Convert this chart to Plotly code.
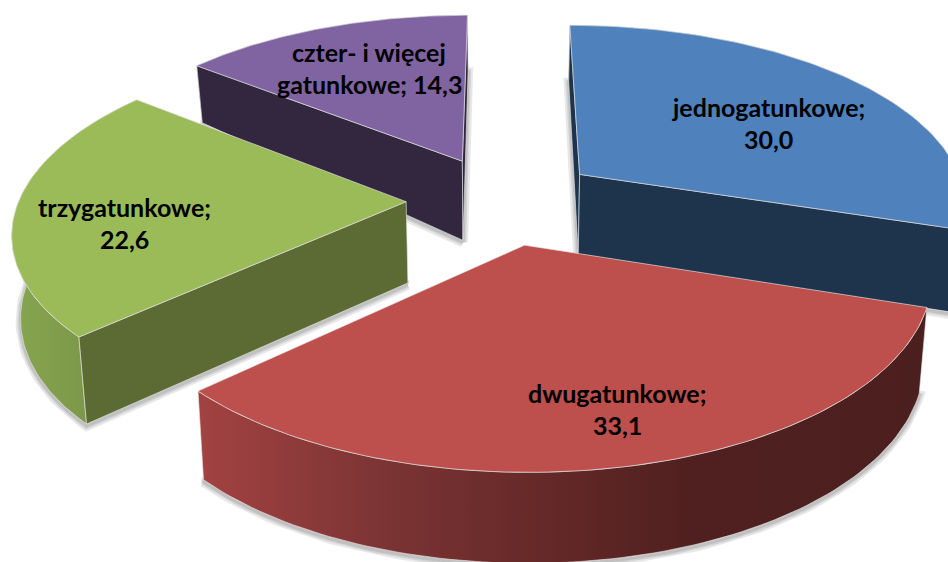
import numpy as np
import plotly.graph_objects as go

categories = ["jednogatunkowe", "dwugatunkowe", "trzygatunkowe", "czter- i więcej gatunkowe"]
values = [30.0, 33.1, 22.6, 14.3]

top_colors = ["#4f81bd", "#bd4f4c", "#9bbb59", "#8064a2"]
side_colors = [
    [[0, "#1e334c"], [1, "#1e334c"]],
    [[0, "#a34242"], [0.25, "#7c3434"], [0.45, "#672a29"], [0.68, "#4f201f"], [1, "#4c1f1f"]],
    [[0, "#87a650"], [1, "#738d43"]],
    [[0, "#33273f"], [1, "#33273f"]],
]
face_colors = ["#1e334c", "#4c1f1f", "#5c6b33", "#33273f"]
label_pos = [(768, 107), (617, 393), (124, 207), (369, 52)]
draw_order = [3, 0, 2, 1]

# projection of the tilted, exploded pie
X0, Y0, R, Q, K = 503.0, 209.0, 390.0, 181.0, 0.15
EXPLODE, CENTER_Y = 0.25, -0.05
INSET = 0.018
CAMERA = (0.0, 3.0)


def depth(y):
    return np.interp(y, [-1.3, -0.9, -0.3, 0.5, 1.2], [55, 57, 79, 86, 91])


def project(wx, wy):
    s = 1.0 / (1.0 - K * wy)
    return X0 + R * wx * s, Y0 + Q * wy * s


def project_bottom(wx, wy):
    sx, sy = project(wx, wy)
    return X0 + (sx - X0) * (1 - INSET), sy + depth(wy)


def poly(xs, ys, fill=None, gradient=None, edge="rgba(225,225,225,0.65)", width=1):
    kw = dict(x=np.append(xs, xs[0]), y=np.append(ys, ys[0]), mode="lines",
              line=dict(color=edge, width=width), hoverinfo="skip", showlegend=False)
    if gradient is not None:
        kw.update(fill="toself", fillgradient=gradient)
    elif fill is not None:
        kw.update(fill="toself", fillcolor=fill)
    return go.Scatter(**kw)


total = sum(values)
edges = np.concatenate([[0], np.cumsum(values)]) / total * 2 * np.pi
fig = go.Figure()

for i in draw_order:
    a, b = edges[i], edges[i + 1]
    mid = (a + b) / 2
    cx, cy = EXPLODE * np.sin(mid), CENTER_Y - EXPLODE * np.cos(mid)
    th = np.linspace(a, b, 90)
    wx, wy = cx + np.sin(th), cy - np.cos(th)
    tx, ty = project(wx, wy)
    bx, by = project_bottom(wx, wy)
    ax, ay = project(np.array([cx]), np.array([cy]))
    abx, aby = project_bottom(np.array([cx]), np.array([cy]))

    # soft shadow around the bottom outline
    sx, sy = np.concatenate([abx, bx]), np.concatenate([aby, by]) + 2
    for w in (10, 6, 3):
        fig.add_trace(poly(sx, sy, edge="rgba(0,0,0,0.09)", width=w))

    # rim
    grad = dict(type="horizontal", colorscale=side_colors[i],
                start=float(min(bx.min(), tx.min())),
                stop=float(max(bx.max(), tx.max())))
    fig.add_trace(poly(np.concatenate([tx, bx[::-1]]), np.concatenate([ty, by[::-1]]), gradient=grad))

    # end faces that look towards the camera
    normals = {0: (-np.cos(a), -np.sin(a)), -1: (np.cos(b), np.sin(b))}
    for k, n in normals.items():
        if n[0] * (CAMERA[0] - cx) + n[1] * (CAMERA[1] - cy) > 0:
            fig.add_trace(poly(np.array([ax[0], tx[k], bx[k], abx[0]]),
                               np.array([ay[0], ty[k], by[k], aby[0]]),
                               fill=face_colors[i]))
    # top
    fig.add_trace(poly(np.concatenate([ax, tx]), np.concatenate([ay, ty]), fill=top_colors[i]))

annotations = []
for cat, val, (lx, ly) in zip(categories, values, label_pos):
    text = f"{cat}; {val:.1f}".replace(".", ",")
    text = text.replace("więcej ", "więcej\n") if "więcej " in text else text.replace("; ", ";\n")
    for j, line in enumerate(text.split("\n")):
        annotations.append(dict(x=lx, y=ly + j * 32, text=line, showarrow=False,
                                xanchor="center", yanchor="middle",
                                font=dict(family="Lato", size=25, color="#000000", weight="bold")))

fig.update_layout(
    width=948, height=562, margin=dict(l=0, r=0, t=0, b=0),
    paper_bgcolor="white", plot_bgcolor="white", showlegend=False,
    xaxis=dict(range=[0, 948], visible=False, fixedrange=True),
    yaxis=dict(range=[562, 0], visible=False, fixedrange=True),
    annotations=annotations,
)
fig.write_html("out.html", config=dict(displayModeBar=False),
               post_script="document.body.style.margin='0';document.documentElement.style.overflow='hidden';")
